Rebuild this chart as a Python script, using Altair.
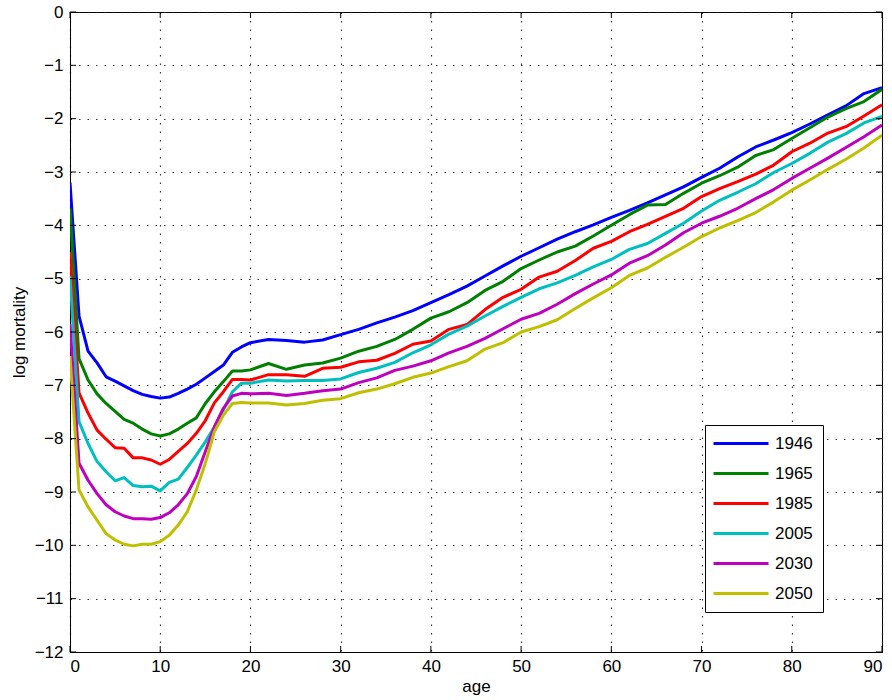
import altair as alt
import pandas as pd

ages = list(range(0, 21)) + list(range(22, 91, 2))
years = ["1946", "1965", "1985", "2005", "2030", "2050"]
colors = ["#0000ff", "#008000", "#ff0000", "#00bfbf", "#bf00bf", "#bfbf00"]
x_ticks = list(range(0, 91, 10))
y_ticks = list(range(-12, 1, 1))

m1946 = [-3.2, -5.7, -6.36, -6.58, -6.84, -6.92, -7.01, -7.10, -7.17, -7.21, -7.24, -7.22, -7.15, -7.07, -6.98, -6.86, -6.74, -6.62, -6.38, -6.28, -6.20,
         -6.14, -6.16, -6.19, -6.15, -6.05, -5.95, -5.83, -5.72, -5.6, -5.45, -5.3, -5.14, -4.95, -4.76, -4.58, -4.42, -4.26, -4.12, -3.99, -3.85,
         -3.72, -3.58, -3.43, -3.28, -3.1, -2.93, -2.72, -2.53, -2.4, -2.26, -2.1, -1.93, -1.76, -1.53, -1.42]
m1965 = [-3.68, -6.5, -6.9, -7.16, -7.34, -7.49, -7.64, -7.71, -7.82, -7.91, -7.95, -7.91, -7.82, -7.71, -7.61, -7.34, -7.12, -6.93, -6.73, -6.73, -6.71,
         -6.59, -6.70, -6.62, -6.58, -6.49, -6.36, -6.27, -6.14, -5.95, -5.74, -5.62, -5.45, -5.22, -5.05, -4.81, -4.65, -4.5, -4.39, -4.2, -4.0,
         -3.8, -3.62, -3.61, -3.40, -3.21, -3.07, -2.91, -2.69, -2.58, -2.37, -2.17, -1.97, -1.81, -1.68, -1.45]
m1985 = [-4.5, -7.14, -7.52, -7.84, -8.01, -8.17, -8.18, -8.36, -8.36, -8.4, -8.48, -8.39, -8.24, -8.09, -7.9, -7.66, -7.33, -7.12, -6.89, -6.89, -6.9,
         -6.8, -6.8, -6.83, -6.68, -6.66, -6.56, -6.53, -6.4, -6.23, -6.17, -5.95, -5.86, -5.58, -5.35, -5.2, -4.97, -4.86, -4.66, -4.43, -4.3,
         -4.12, -3.98, -3.83, -3.68, -3.46, -3.31, -3.18, -3.04, -2.87, -2.62, -2.46, -2.27, -2.15, -1.95, -1.74]
m2005 = [-4.95, -7.68, -8.09, -8.43, -8.62, -8.79, -8.73, -8.88, -8.9, -8.89, -8.98, -8.82, -8.76, -8.54, -8.31, -8.06, -7.78, -7.46, -7.12, -6.96, -6.96,
         -6.9, -6.92, -6.91, -6.91, -6.88, -6.76, -6.68, -6.57, -6.39, -6.24, -6.04, -5.89, -5.7, -5.52, -5.35, -5.19, -5.08, -4.94, -4.78, -4.64,
         -4.45, -4.34, -4.15, -3.96, -3.73, -3.53, -3.38, -3.22, -3.01, -2.84, -2.65, -2.44, -2.28, -2.08, -1.96]
m2030 = [-5.85, -8.46, -8.78, -9.03, -9.24, -9.37, -9.45, -9.5, -9.5, -9.51, -9.48, -9.39, -9.24, -9.03, -8.71, -8.24, -7.78, -7.43, -7.2, -7.15, -7.16,
         -7.15, -7.19, -7.15, -7.1, -7.07, -6.95, -6.86, -6.72, -6.64, -6.54, -6.39, -6.27, -6.12, -5.94, -5.76, -5.65, -5.48, -5.28, -5.1, -4.93,
         -4.71, -4.57, -4.37, -4.14, -3.96, -3.83, -3.68, -3.5, -3.33, -3.12, -2.93, -2.74, -2.54, -2.34, -2.12]
m2050 = [-6.45, -8.96, -9.28, -9.53, -9.78, -9.9, -9.98, -10.01, -9.98, -9.98, -9.93, -9.81, -9.62, -9.37, -8.96, -8.46, -7.87, -7.56, -7.34, -7.32, -7.33,
         -7.33, -7.37, -7.34, -7.28, -7.25, -7.14, -7.07, -6.97, -6.85, -6.77, -6.65, -6.54, -6.32, -6.2, -6.0, -5.9, -5.77, -5.56, -5.36, -5.17,
         -4.94, -4.8, -4.6, -4.41, -4.21, -4.05, -3.91, -3.76, -3.56, -3.34, -3.15, -2.95, -2.76, -2.55, -2.31]

series = [m1946, m1965, m1985, m2005, m2030, m2050]
rows = []
for yr, vals in zip(years, series):
    for a, v in zip(ages, vals):
        rows.append({"age": a, "year": yr, "value": v})
df = pd.DataFrame(rows)

W, H = 812, 640
FONT = "Liberation Sans"
xs = alt.Scale(domain=[0, 90], nice=False, zero=False)
ys = alt.Scale(domain=[-12, 0], nice=False, zero=False)
x_axis = alt.Axis(values=x_ticks, labelPadding=6, titlePadding=4)
y_axis = alt.Axis(values=y_ticks, labelPadding=7, titlePadding=6)

lines = alt.Chart(df).mark_line(strokeWidth=3, clip=True, strokeJoin="round").encode(
    x=alt.X("age:Q", scale=xs, title="age", axis=x_axis),
    y=alt.Y("value:Q", scale=ys, title="log mortality", axis=y_axis),
    color=alt.Color("year:N", scale=alt.Scale(domain=years, range=colors),
                    legend=alt.Legend(title=None, orient="none", legendX=635, legendY=413,
                                      symbolType="M-2,0H9", symbolSize=100, symbolStrokeWidth=3,
                                      labelFontSize=17, labelFont=FONT, labelColor="black",
                                      labelOffset=43, rowPadding=12, padding=10,
                                      strokeColor="black", fillColor="white", cornerRadius=0)),
)

xt = pd.DataFrame({"t": x_ticks})
yt = pd.DataFrame({"t": y_ticks})
tb = alt.Chart(xt).mark_rule(color="black", strokeWidth=1).encode(
    x=alt.X("t:Q", scale=xs, title="age", axis=x_axis), y=alt.value(H), y2=alt.value(H - 6))
tt = alt.Chart(xt).mark_rule(color="black", strokeWidth=1).encode(
    x=alt.X("t:Q", scale=xs, title="age", axis=x_axis), y=alt.value(0), y2=alt.value(6))
tl = alt.Chart(yt).mark_rule(color="black", strokeWidth=1).encode(
    y=alt.Y("t:Q", scale=ys, title="log mortality", axis=y_axis), x=alt.value(0), x2=alt.value(6))
tr = alt.Chart(yt).mark_rule(color="black", strokeWidth=1).encode(
    y=alt.Y("t:Q", scale=ys, title="log mortality", axis=y_axis), x=alt.value(W), x2=alt.value(W - 6))

chart = alt.layer(lines, tb, tt, tl, tr).properties(
    width=W, height=H,
    background="white",
    autosize=alt.AutoSizeParams(type="none"),
    padding={"left": 70, "top": 12, "right": 10, "bottom": 48},
).configure_view(stroke="black", strokeWidth=1).configure_axis(
    domain=True, domainColor="black", domainWidth=1, ticks=False,
    grid=True, gridColor="#222222", gridOpacity=0.9, gridDash=[1.5, 7], gridWidth=1.2,
    labelFont=FONT, labelFontSize=17, labelColor="black",
    titleFont=FONT, titleFontSize=17, titleFontWeight="normal", titleColor="black",
)

chart.save("out.html", embed_options={"renderer": "svg", "actions": False})
